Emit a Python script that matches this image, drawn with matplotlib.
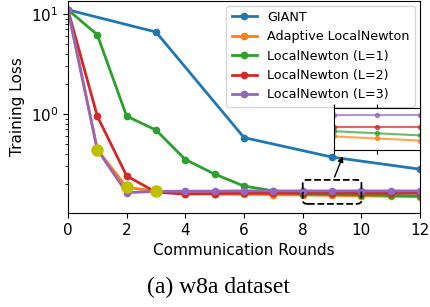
import numpy as np
import matplotlib
matplotlib.use("Agg")
import matplotlib.pyplot as plt
from matplotlib.patches import FancyBboxPatch

# data
giant_x = [0, 3, 6, 9, 12]
giant_y = [11.0, 6.6, 0.58, 0.37, 0.28]

rounds = list(range(13))
adaptive = [11.0, 0.44, 0.185, 0.168, 0.160, 0.158, 0.157, 0.156, 0.1548, 0.1533, 0.1518, 0.150, 0.149]
ln1 = [11.0, 6.2, 0.95, 0.69, 0.35, 0.25, 0.19, 0.17, 0.1585, 0.157, 0.1555, 0.153, 0.151]
ln2 = [11.0, 0.95, 0.24, 0.165, 0.158, 0.160, 0.161, 0.161, 0.1615, 0.1615, 0.1615, 0.1615, 0.1615]
ln3 = [11.0, 0.44, 0.163, 0.168, 0.169, 0.169, 0.170, 0.170, 0.170, 0.170, 0.170, 0.170, 0.170]

switch_x = [1, 2, 3]
switch_y = [0.44, 0.185, 0.168]

labels = ["GIANT", "Adaptive LocalNewton", "LocalNewton (L=1)",
          "LocalNewton (L=2)", "LocalNewton (L=3)"]
colors = ["tab:blue", "tab:orange", "tab:green", "tab:red", "tab:purple"]

fig = plt.figure(figsize=(4.3, 3.07), dpi=100)
ax = fig.add_axes([0.158, 0.306, 0.819, 0.692])

series = [(giant_x, giant_y), (rounds, adaptive), (rounds, ln1), (rounds, ln2), (rounds, ln3)]
for (xs, ys), lab, c in zip(series, labels, colors):
    ax.plot(xs, ys, "-o", color=c, lw=2, ms=4.5, label=lab)
ax.plot(switch_x, switch_y, "o", color="y", ms=8, zorder=5)

ax.set_yscale("log")
ax.set_xlim(0, 12)
ax.set_ylim(0.102, 13.6)
ax.set_xticks([0, 2, 4, 6, 8, 10, 12])
ax.tick_params(labelsize=11)
ax.set_xlabel("Communication Rounds", fontsize=11)
ax.set_ylabel("Training Loss", fontsize=11)
ax.legend(loc="upper right", fontsize=9.2, handlelength=2.0, borderaxespad=0.4)

# dashed box around the zoomed region
to_axes = ax.transData + ax.transAxes.inverted()
(x0, y0) = to_axes.transform((8, 0.126))
(x1, y1) = to_axes.transform((10, 0.219))
box = FancyBboxPatch((x0, y0), x1 - x0, y1 - y0, transform=ax.transAxes,
                     boxstyle="round,pad=0,rounding_size=0.015",
                     fill=False, ls="--", lw=1.3, ec="black", zorder=6)
ax.add_patch(box)
ax.annotate("", xy=(9.4, 0.40), xytext=(9.05, 0.22),
            arrowprops=dict(arrowstyle="-|>", color="black", lw=1, mutation_scale=8))

# inset
ins = fig.add_axes([0.777, 0.511, 0.2, 0.137])
for (xs, ys), c in zip(series[1:], colors[1:]):
    ins.plot(xs, ys, "-o", color=c, lw=1.5, ms=3, alpha=0.7)
ins.set_xlim(8, 10)
ins.set_ylim(0.145, 0.175)
ins.set_xticks([8, 9, 10])
ins.set_yticks([])
ins.tick_params(labelbottom=False, labelleft=False, top=True, length=3)
ins.yaxis.set_minor_locator(matplotlib.ticker.NullLocator())

fig.text(0.507, 0.03, "(a) w8a dataset", ha="center", va="bottom",
         family="Liberation Serif", fontsize=17)

fig.savefig("out.png", dpi=100)
